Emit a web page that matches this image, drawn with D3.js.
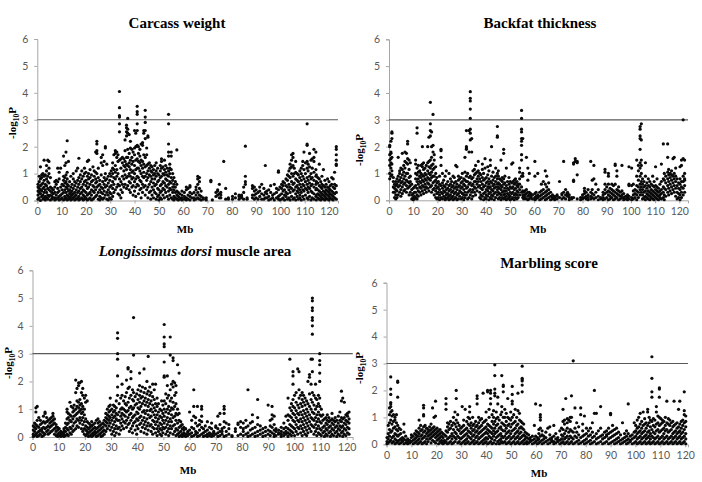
<!DOCTYPE html>
<html><head><meta charset="utf-8">
<script src="https://cdn.jsdelivr.net/npm/d3@7"></script>
<style>body{margin:0;background:#fff}svg{display:block}</style>
</head><body>
<script>
// each group: [Mb position, -log10P values...]
const carcassWeight = [
[0.3,.05,.2,.35,.5,.6],[0.8,.1,.3,.45,.7,.9],[1.3,0,.25,.4,.55,.8,1.25],[1.8,.15,.35,.6,.85,.95],[2.3,.05,.2,.45,.65,1.0],[2.8,.1,.3,.5,.75,.9,1.5],[3.3,.02,.15,.4,.6,.95],[3.8,.1,.3,.55,.8,1.1,1.3],[4.3,.05,.2,.45,.7,.9,1.5],[4.8,.15,.4,.65,1.0,1.2,1.45],[5.4,.02,.2,.35,.5,.85],[6.0,.05,.15,.3,.45],[6.6,.1,.25,.4],[7.2,.02,.1,.3,.5,.7],[7.8,.05,.2,.6,.75],[8.4,.1,.3,.45,.7,1.2],[9.0,.02,.15,.35,.8,1.05],[9.6,.05,.2,.5,1.2],[10.2,.1,.25,.4,.6],[10.8,.02,.3,.55,.75,.9,1.65],[11.3,.05,.15,.4,.65,.85,1.3],[11.8,.1,.3,.5,.7,.95,1.4,1.8],[12.3,.02,.2,.45,.6,.8,1.05,2.22],[12.8,.05,.15,.35,.55,1.45],[13.3,.1,.25,.4,.7],[13.8,.02,.15,.3,.5,.9],[14.3,.05,.2,.35,.6],[14.8,.1,.25,.45,.8,1.0],[15.4,.02,.15,.3,.55,.7],[16.0,.05,.2,.4,.65,1.1],[16.6,.1,.3,.5,.75,1.2],[17.1,.02,.15,.35,.6,.85,1.57],[17.7,.05,.25,.45,.7,.95],[18.3,.1,.3,.5,.8,1.1],[18.9,.02,.2,.4,.6,.9],[19.4,.05,.15,.35,.7,1.0,1.2],[20.0,.1,.3,.55,.75,1.05],[20.6,.02,.2,.45,.65,.9,1.45],[21.1,.05,.25,.5,.8,1.0,1.5],[21.7,.1,.3,.6,.85,1.15],[22.3,.02,.2,.4,.7,.95],[22.9,.05,.35,.55,.75,1.25],[23.4,.1,.3,.5,.9,1.1],[24.0,.15,.4,.65,.8,1.05,1.8],[24.5,.2,.5,.7,1.0,1.75,1.85,2.1,2.2],[25.1,.05,.3,.55,.85,1.2],[25.7,.02,.15,.4,.6,.75],[26.3,.1,.3,.5,.95,1.4,1.6],[26.9,.05,.25,.45,.7,1.3,1.7],[27.5,.1,.35,.6,.85,1.45],[28.0,.2,.5,.75,1.0,1.95,2.0],[28.6,.05,.3,.55,.8,1.35],[29.2,.02,.2,.4,.65,.9],[29.8,.1,.3,.5,.75,1.0],[30.4,.05,.25,.55,.9,1.1],[31.0,.15,.45,.7,1.0,1.2,1.4],[31.5,.3,.6,.85,1.15,1.7],[32.1,.4,.8,1.05,1.3,1.75,1.85],[32.7,.5,.9,1.15,1.6,1.8],[33.2,.25,.6,1.0,1.45,1.7],[33.8,.2,.55,.8,1.5,2.55,2.85,3.1,3.15,3.45,4.05],[34.4,.1,.4,.7,1.2,1.55],[35.0,.3,.6,.9,1.4,1.6],[35.6,.5,.8,1.1,1.3,1.55],[36.1,.6,.95,1.25,1.45,1.85,2.25],[36.7,.45,.85,1.15,1.35,1.6,2.4,2.55,2.7,2.8],[37.2,.55,.9,1.3,1.6,1.9,2.5,2.65,3.05],[37.8,.4,.7,1.0,1.25,1.4,1.75,2.45],[38.3,.3,.65,.9,1.15,1.5,1.95,2.2],[38.9,.5,.8,1.05,1.35,1.6,1.9],[39.4,.2,.55,.85,1.1,1.45,1.8],[40.0,.35,.7,1.0,1.3,1.7,1.95,2.6],[40.5,.15,.5,.8,1.15,1.5,2.0,2.5],[41.1,.6,.9,1.2,1.55,2.05,2.6,2.85,3.2,3.3,3.5],[41.6,.25,.55,.85,1.2,1.45,1.75,2.0],[42.2,.4,.75,1.1,1.4,1.65,1.9],[42.7,.1,.45,.7,1.0,1.3,1.5,2.1],[43.3,.3,.6,.9,1.2,1.45,2.05,2.15],[43.8,.5,.85,1.05,1.35,1.7,2.5,2.6],[44.4,.2,.55,.9,1.25,1.6,2.3,2.6,2.9,3.1,3.35],[45.0,.4,.75,1.0,1.3,1.7,1.95],[45.5,.1,.5,.85,1.1,1.35,2.35,2.4],[46.1,.3,.6,.95,1.2,1.4],[46.7,.05,.35,.7,.9,1.1,1.3],[47.2,.2,.5,.8,1.05,1.25],[47.8,.1,.4,.65,.95,1.15],[48.3,.3,.55,.8,1.0,1.3],[48.9,.05,.25,.6,.9,1.1,1.4],[49.5,.15,.45,.7,1.0,1.2],[50.0,.02,.2,.4,.75,.95],[50.6,.1,.3,.55,.85,1.1,1.3],[51.1,.05,.35,.6,.9,1.2,1.45,1.55],[51.7,.2,.45,.7,1.0,1.25],[52.3,.1,.4,.65,.95,1.15,1.5],[52.8,.3,.55,.8,1.05,1.3],[53.4,.15,.5,.75,.95,1.2],[54.0,.05,.35,.6,.9,1.1,1.65,1.8,2.1,2.85,3.2],[54.5,.2,.45,.7,1.0,1.2,1.35],[55.1,.1,.4,.65,.85,1.15,1.65,1.8],[55.7,.05,.3,.5,.75,1.0],[56.2,.02,.15,.4,.6,.85],[56.8,.1,.3,.5,.7],[57.4,.05,.2,.35,.6,1.88],[58.0,.02,.15,.3],[58.6,.05,.1,.25],[59.5,.02,.1,.2,.35],[60.5,.05,.15,.3],[61.3,.02,.1,.4,.5],[62.0,.05,.2,.45],[62.8,.02,.15,.3,.5,.55],[63.6,.1,.25],[64.5,.02,.1,.3],[65.3,.05,.2,.4,.5],[66.0,.1,.3,.6,.8,.9],[66.7,.05,.2,.45,.7,.85],[67.4,.02,.15,.35],[68.3,.05,.1],[69.5,.02,.1],[71.4,.7,.75],[72.0,.02],[73.5,.15,.3],[74.2,.2,.35,.4],[74.9,.1,.25,.6],[75.5,.1,.2,.3],[76.7,1.45],[77.5,.05,.45],[78.6,.05,.1],[80.3,.05,.15],[81.5,.1,.25],[83.0,.05,.15,.2],[84.0,.1,.2,.15],[84.9,.05,.3,.5],[85.6,.6,.7,.9,2.02],[86.3,.05,.1],[88.5,.1,.2,.45,.55],[89.3,.05,.2,.35,.5],[90.0,.1,.25,.4],[90.8,.05,.3],[91.5,.15,.35,.5],[92.3,.05,.25,.6],[93.8,.1,.3,1.3],[93.2,.05,.2,.45],[94.4,.1,.25,.35],[95.2,.02,.15,.4],[96.0,.05,.3,.55],[96.8,.1,.2],[97.5,.02,.25,.6],[99.2,.05,.15,.4,1.05,1.1],[98.4,.1,.3,.45],[99.8,.02,.2,.5],[100.5,.05,.25,.45,.6],[101.1,.1,.35,.55,.7],[101.7,.02,.2,.4,.65],[102.3,.15,.3,.55,.8],[102.9,.05,.25,.5,.75,.95],[103.5,.1,.4,.6,.9,1.1],[104.0,.02,.3,.5,.85,1.2,1.35],[104.6,.15,.45,.7,1.0,1.25,1.5,1.7],[105.2,.05,.35,.6,.9,1.3,1.6,1.75],[105.7,.1,.4,.65,1.0,1.2],[106.3,.02,.25,.5,.8,1.05,1.45],[106.9,.15,.35,.55,.75,1.0],[107.4,.05,.3,.45,.7,.95],[108.0,.1,.2,.4,.6,.85,1.1],[108.6,.02,.3,.5,.75,1.0,1.2],[109.2,.15,.4,.6,.9,1.3,1.45],[109.7,.05,.35,.55,.8,1.15,1.8],[110.3,.2,.45,.7,1.0,1.4],[111.0,.1,.4,.6,.85,1.2,1.45,2.05,2.1,2.85],[111.4,.05,.3,.5,.75,1.1,1.35],[112.0,.15,.45,.65,.9,1.25,1.75],[112.6,.02,.35,.55,.8,1.0,1.5],[113.1,.1,.3,.6,.85,1.2,1.55],[113.8,.05,.25,.5,.75,1.05,1.45,1.6,1.9],[114.6,.15,.4,.6,.9,1.15,1.8],[114.8,.02,.2,.45,.7,.95],[115.4,.1,.25,.4,.65,.85],[116.0,.05,.2,.35,.55,.8,1.35],[116.6,.02,.15,.3,.5,.7],[117.1,.1,.25,.45,.6,.9],[117.7,.05,.2,.35,.55,1.15],[118.3,.02,.15,.3,.5,.75],[118.8,.1,.25,.4,.6],[119.4,.05,.2,.35,.5,.8],[120.0,.02,.15,.3,.45,.7],[120.5,.1,.25,.4,.55],[121.1,.05,.2,.35,.6,.85],[121.7,.02,.15,.3,.5,.8],[122.3,.1,.25,.45,.6,1.05],[123.0,.05,.3,.55,1.3,1.35,1.5,1.7,1.9,2.0]
];
const backfatThickness = [
[0.3,.8,1.0,1.3,1.5,1.7,2.0,2.05],[0.8,.9,1.2,1.4,1.55,1.75,1.8,2.2],[1.2,.95,1.1,1.35,1.6,2.3,2.5,2.55],[1.8,.3,.5,.7,.85],[2.3,.1,.3,.45,.6],[2.8,.05,.2,.4,.55,.7],[3.3,.1,.35,.6,.8],[3.8,.2,.5,.7,.9,1.6],[4.4,.3,.55,.75,1.0,1.1],[4.9,.15,.4,.65,.85,1.2],[5.5,.25,.5,.7,.95,1.15,1.75],[6.1,.35,.6,.8,1.05,1.3],[6.6,.4,.65,.9,1.2,1.45,1.8],[7.2,.3,.55,.75,1.0,1.4,1.75],[7.7,.45,.7,1.0,1.35,1.55,2.1,2.2],[8.3,.2,.5,.65,.85,1.15,1.5],[8.8,.3,.55,.7,.9,1.4],[9.4,.05,.2,.4,.6],[10.0,.02,.1,.25,.45],[10.5,.05,.15,.3,.5],[11.0,.1,.3,.55,.8,1.0,1.35,1.5],[11.6,.05,.2,.45,.7,.95,1.2,2.5,2.7],[12.1,.15,.35,.6,.8,1.05,1.3],[12.7,.3,.5,.7,.9,1.1],[13.2,.2,.45,.65,.85,1.0,1.3],[13.8,.35,.55,.75,.95,1.25,1.35,2.0],[14.3,.25,.5,.7,.9,1.15,1.4],[14.9,.4,.6,.8,1.0,1.2],[15.4,.3,.5,.75,.95,1.3],[16.0,.45,.65,.85,1.1,1.4,2.0],[16.5,.35,.6,.8,1.0,1.25,1.45,2.35],[17.1,.5,.75,.95,1.2,1.5,2.4,2.6,2.85,3.65],[17.6,.3,.55,.85,1.05,1.3,1.6,2.0,2.55],[18.2,.4,.65,.9,1.15,1.35,1.8,2.05,3.2],[18.7,.2,.45,.7,.9,1.2,1.5,1.7],[19.3,.1,.35,.55,.75,1.0,1.25],[19.8,.05,.25,.45,.65,.85],[20.4,.1,.3,.5,.7],[20.9,.02,.2,.4,.6,.9],[21.5,.1,.3,.55,1.3,1.6,1.85,1.9],[22.1,.05,.25,.45,.65,1.0],[22.6,.15,.35,.55,.75],[23.2,.02,.1,.3,.5,.9],[23.7,.05,.2,.4,.6,1.1],[24.3,.1,.25,.45,.7],[24.8,.02,.15,.35,.55,1.0],[25.4,.05,.2,.4,.6,.8],[25.9,.1,.3,.5,.7],[26.5,.02,.15,.35,.55,.9],[27.0,.05,.25,.45,.65,.85],[27.6,.1,.3,.5,.7,1.3],[28.1,.02,.2,.4,.6,1.25],[28.7,.05,.25,.5,.75,.9],[29.2,.15,.35,.55,.8],[29.8,.05,.3,.45,.65,.85],[30.3,.1,.25,.5,.7,1.0],[30.9,.02,.2,.4,.6,.8],[31.4,.1,.3,.55,.75,1.05,1.6],[32.0,.2,.45,.7,.9,1.9,1.95,2.0,2.6],[32.5,.05,.3,.5,.7,1.0],[33.1,.1,.35,.6,.85,1.8,2.6],[33.6,.2,.4,.65,.9,2.25,2.5,2.65,3.05,3.4,3.7,3.8,4.05],[34.2,.05,.3,.55,.8,1.8,2.3],[34.7,.15,.4,.6,.85,1.1],[35.3,.3,.5,.7,.95,1.15],[35.8,.2,.45,.7,1.0,1.3],[36.4,.35,.6,.8,1.05],[36.9,.5,.7,.9,1.1,1.45],[37.5,.1,.3,.55,.8,1.0],[38.0,.05,.2,.45,.7,.95],[38.6,.15,.4,.6,.85,1.15,1.35],[39.1,.02,.25,.5,.75,1.0],[39.7,.1,.3,.55,.8,1.2,1.55],[40.2,.05,.2,.4,.65,.85],[40.8,.15,.35,.5,.7,.95,1.25],[41.3,.02,.25,.45,.6,.8,1.1],[41.9,.1,.3,.5,.7,1.3,1.5],[42.4,.05,.2,.4,.65,.9,2.0],[43.0,.15,.35,.55,.75,1.05],[43.5,.02,.25,.45,.6,.85],[44.1,.1,.3,.5,.7,.9,1.2],[44.8,.2,.4,.6,.8,1.0,2.35,2.4,2.75],[45.2,.05,.3,.5,.65,.9,1.1],[45.7,.1,.25,.45,.6,.8],[46.3,.02,.2,.4,.55,.75,1.5],[46.8,.1,.3,.5,.7,.85],[47.4,.05,.2,.35,.6,.8,1.75,1.9],[47.9,.1,.25,.45,.65,.9],[48.5,.02,.15,.35,.55,1.2],[49.0,.05,.25,.45,.7],[49.6,.1,.2,.4,.6,.85],[50.1,.02,.15,.3,.5,.7],[50.7,.05,.25,.45,.65,1.35],[51.2,.1,.3,.5,.7,1.4],[51.8,.02,.2,.4,.6,.75],[52.3,.1,.25,.45,.65,.8],[52.9,.05,.2,.35,.55,.7],[53.4,.1,.3,.5,.6],[54.0,.2,.4,.6,.8,1.05,1.2],[54.8,.3,.5,.9,1.5,1.7,2.05,2.2,2.3,2.55,2.65,3.05,3.35],[55.3,.1,.2,.35,.9,1.0,2.3],[55.7,.05,.15,.3],[56.2,.1,.2,.35],[56.8,.05,.25,.4,1.6],[57.4,.02,.15,.3,.75,1.2],[58.0,.05,.2,.3,1.0],[58.6,.1,.15,.25],[59.3,.05,.2],[60.3,.02,.1,.25,.9,1.45],[60.8,.05,.15,.3],[61.5,.1,.2,1.0],[62.3,.02,.15,.3],[63.0,.05,.2,.35,.6],[63.8,.1,.25,.4,.7],[64.6,.02,.15,.3,.6,1.1],[65.2,.05,.2,.35,.5,.9],[66.0,.1,.25,.4,.65],[66.8,.02,.15,.3],[67.6,.05,.1,.2],[68.5,.02,.1,.15],[69.5,.05,.2,.15],[70.5,.1,.7],[71.5,.05,.2,.25],[72.2,.1,.3,1.45],[73.0,.05,.2,.4],[73.8,.15,.3,.25],[74.5,.02,.1,.2],[75.5,.05,.1],[76.3,.1,.7,.75,1.35,1.4],[77.0,1.45,1.55],[77.8,.05,.95,1.4,1.45],[79.2,.02,.1],[80.0,.05,.2,.1],[80.8,.1,.25,.35,.45],[81.5,.05,.15,.3],[82.3,.02,.1,.2,.4],[83.4,.05,.15,.3,1.45],[84.0,.1,.25,.4,.75],[84.7,.05,.2,.8,1.3],[85.5,.1,.3,.6],[86.5,.02,.15,.4],[87.5,.05,.1],[88.5,.02,.1,.2,.3],[89.3,.05,.25,.4,.6,1.05,1.15],[90.0,.1,.3,.5],[90.7,.02,.2,.35,.6,.9,1.0],[91.4,.05,.15,.3,.45],[92.1,.1,.25,.4,.6],[92.8,.02,.2,.35,.55],[93.5,.05,.15,.3,.6,1.3,1.35],[94.2,.1,.25,.4,.9,1.1],[94.9,.02,.2,.35,.5],[95.6,.05,.15,.3],[96.3,.1,.2,.35,1.3],[97.0,.02,.1,.25],[97.8,.05,.15],[98.6,.02,.1,.2],[99.2,.05,.15,.55,.6,1.25],[100.3,.02,.1,.55,1.2],[101.0,.05,.2,.35,.6],[101.7,.1,.25,.4],[102.4,.02,.2,.35,.55,.9,1.5],[103.1,.1,.3,.5,.75,1.1,1.3],[103.8,.2,.4,.6,.9,1.2,1.4,1.9,2.3,2.4,2.65,2.75],[104.3,.3,.5,.7,1.0,1.3,1.5,2.25,2.85],[104.8,.05,.2,.4,.6,.8],[105.4,.1,.3,.5,.7],[106.0,.02,.15,.35,.55,.9,1.4],[106.6,.1,.25,.45,.65],[107.2,.05,.2,.35,.55,.8],[107.8,.02,.15,.3,.5,.7],[108.4,.1,.25,.4,.6],[109.0,.05,.2,.35,.55,.9],[109.6,.02,.15,.3,.5,.7],[110.2,.1,.25,.4,.55,1.25],[110.8,.05,.2,.35,.5,.8],[111.4,.02,.15,.3,.45],[112.0,.1,.2,.35,.6],[112.6,.05,.25,.4,.7,1.35],[113.4,.1,.3,.5,.8,2.1],[113.8,.02,.2,.45,.75,1.0],[114.4,.15,.4,.65,.9],[115.2,.3,.55,.8,1.05,1.6,2.1],[115.6,.2,.45,.7,.95,1.15],[116.2,.35,.6,.85,1.0],[116.8,.25,.5,.75,.95,1.1],[117.4,.4,.65,.9,1.55],[117.9,.3,.55,.8,1.0,1.6],[118.5,.15,.45,.7,.9,1.2],[119.1,.05,.3,.55,.8],[119.7,.1,.25,.45,.65],[120.3,.02,.2,.4,.6,.8,1.25],[120.9,.1,.3,.5,.7,1.3,1.5],[121.6,.2,.45,.7,.9,1.55,3.0],[122.2,.3,.55,.75,.8,1.0,1.5]
];
const ldMuscleArea = [
[0.3,.02,.1,.25,.4],[0.8,.05,.2,.35,.5],[1.3,.1,.3,.45,.9,1.05],[1.8,.02,.15,.4,.6,1.1],[2.4,.05,.2,.35,.7],[3.0,.1,.25,.45,.6],[3.6,.02,.2,.3,.5],[4.2,.05,.15,.35,.55,.75],[4.8,.1,.3,.5,.85,.9],[5.4,.2,.35,.55,.7],[6.0,.1,.25,.4,.6],[6.6,.15,.35,.5,.65],[7.2,.2,.4,.55,.7],[7.8,.25,.45,.6,.75,.85],[8.4,.1,.3,.5,.65],[9.0,.05,.2,.35,.45],[9.6,.02,.1,.25,.35],[10.2,.05,.15,.3],[10.8,.02,.1,.2],[11.4,.05,.15,.1],[12.0,.02,.1,.2,.3],[12.6,.05,.2,.35,.5],[13.2,.1,.3,.45,.65,.9,1.0],[13.7,.05,.25,.5,.7,.85],[14.3,.15,.35,.6,.8,1.25],[14.8,.1,.3,.55,.75,1.1],[15.4,.2,.4,.65,.9,1.05],[15.9,.25,.5,.75,.95,1.15],[16.5,.3,.55,.8,1.0,1.6,2.05],[17.0,.4,.65,.85,1.1,1.3,1.75],[17.6,.35,.6,.9,1.05,1.25,1.85,1.95],[18.1,.5,.7,.95,1.15,1.35,1.95],[18.7,.3,.6,.85,1.0,1.2,1.6,2.0],[19.2,.2,.45,.7,.9,1.1,1.5,1.75],[19.8,.1,.3,.55,.8,1.0,1.4],[20.3,.05,.25,.4,.65,1.25,1.5],[20.9,.1,.2,.35,.55,1.3],[21.4,.02,.15,.3,.5],[22.0,.05,.2,.35,.45],[22.6,.02,.1,.25,.4,.55],[23.2,.05,.15,.3,.45],[23.8,.1,.2,.35,.5],[24.4,.02,.15,.3,.6],[25.0,.05,.2,.35,.5,.65],[25.6,.1,.25,.4,.55],[26.2,.02,.15,.3,.45],[26.8,.05,.2,.35,.5],[27.4,.1,.25,.45,.6],[28.0,.2,.4,.55,.7,.85],[28.6,.3,.5,.65,.8,1.0],[29.2,.4,.6,.75,.9,1.1],[29.7,.25,.5,.7,.95,1.15,1.4],[30.3,.1,.35,.6,.8,1.0],[30.9,.2,.45,.7,.9,1.15],[31.4,.05,.3,.55,.75,.95,1.1],[32.0,.15,.4,.65,.85,1.05,1.3],[32.5,.3,.6,.8,1.5,1.8,2.2,2.8,3.0,3.55,3.75],[33.1,.1,.35,.6,.9,1.2],[33.7,.25,.5,.75,1.0,1.4],[34.2,.4,.65,.85,1.05,1.5,1.9],[34.8,.3,.55,.8,1.0,1.3],[35.4,.5,.75,.95,1.2,1.45],[35.9,.35,.6,.9,1.15,1.6,2.05],[36.5,.45,.7,.95,1.25,1.75,2.45,2.5],[37.0,.2,.5,.8,1.05,1.4,1.8],[37.6,.3,.6,.85,1.1,1.5,2.1,2.35],[38.2,.15,.4,.7,1.0,1.35,1.7],[38.6,.5,.75,1.05,1.3,1.6,2.95,4.3],[39.2,.25,.55,.8,1.15,1.45],[39.8,.1,.4,.65,.9,1.2,1.55],[40.3,.3,.6,.85,1.05,1.35,1.7],[40.9,.45,.7,1.0,1.25,1.5,1.85,2.3],[41.4,.2,.5,.75,1.1,1.4,1.65],[42.0,.35,.6,.9,1.2,1.45,1.8],[42.6,.15,.45,.7,.95,1.3,1.6,2.45],[43.1,.3,.55,.85,1.15,1.4,1.75],[43.7,.1,.4,.65,.95,1.25,1.55,2.0],[44.2,.25,.5,.8,1.1,1.35,1.65,2.9],[44.8,.4,.7,.95,1.2,1.5,1.8],[45.3,.2,.45,.75,1.0,1.3,1.6],[45.9,.1,.35,.6,.9,1.15,1.45,1.9],[46.5,.3,.55,.8,1.05,1.35,1.7],[47.0,.15,.45,.7,.95,1.2,1.9],[47.6,.05,.3,.55,.8,1.1,1.4],[48.1,.2,.4,.65,.9,1.2],[48.7,.1,.3,.5,.75,1.0],[49.3,.05,.25,.45,.7,.95,1.3],[49.8,.15,.35,.6,.85,1.15],[50.3,.3,.5,.75,1.0,1.3,2.15,2.2,2.7,3.25,3.35,3.6,4.05],[50.9,.1,.35,.6,.9,1.2,1.55],[51.5,.2,.45,.7,1.0,1.4,1.85,2.2],[52.0,.05,.3,.55,.85,1.1,1.5],[52.6,.15,.4,.65,.95,1.3,1.7,2.95,3.6],[53.1,.3,.55,.8,1.05,1.4,1.9],[53.7,.1,.4,.7,1.0,1.25,1.8,2.0,2.75,2.85],[54.3,.2,.45,.75,1.1,1.5,1.95],[54.8,.05,.3,.6,.85,1.2,1.6,1.85],[55.4,.1,.25,.5,.8,1.0,2.6],[56.0,.02,.15,.35,.6,.85,2.3],[56.6,.05,.2,.4,.55],[57.2,.02,.1,.3,.45],[57.8,.05,.15,.25,.35],[58.5,.02,.1,.3],[59.3,.05,.2,.15],[60.0,.1,.25,.9],[60.8,.02,.15,.35,.6],[61.6,.05,.3,.75,1.1,1.7],[62.3,.1,.2,.5,.7],[63.0,.02,.15,.4,1.1],[63.8,.05,.25,.45,.6],[64.6,.1,.35,.55,.75,1.0,1.1],[65.3,.02,.15,.3],[66.0,.05,.2,.4],[66.8,.02,.1,.25,.55],[67.6,.05,.15,.35],[68.4,.02,.1,.3,.5],[69.2,.05,.2,.15],[70.0,.1,.35,.4],[70.8,.02,.15,.3,.75],[71.6,.05,.2,.45,.85],[72.4,.1,.3,.2],[73.2,.02,.35,.55,.85,1.0,1.1],[74.0,.05,.2,.5],[75.0,.1,.3,.45],[76.2,.02,.05],[77.5,.2,.3],[78.5,.05,.45,.5],[79.5,.1,.35,.55],[80.5,.05,.2,.3,.5],[81.5,.1,.35,.6],[82.3,.02,.15,.4,1.7],[83.2,.05,.25,.5],[84.0,.1,.3,.55,.8],[85.0,.02,.15,.35],[86.0,.05,.2,.45,.7,1.35],[87.0,.1,.25,.4],[88.0,.02,.15,.3],[89.0,.05,.2,.35],[90.0,.1,.25,1.15],[90.8,.05,.2,.4,.6],[91.5,.15,.35,.65,.8,1.1],[92.3,.02,.1,.25,.45,.75],[93.0,.05,.2,.3],[94.0,.1,.25,.15],[95.0,.02,.1,.2,.35],[96.0,.05,.15,.3,.5],[96.8,.1,.2,.35,.75],[97.6,.02,.15,.3,.6,.8,1.4],[98.3,.1,.25,.45,.75,1.05,2.8],[98.9,.05,.2,.4,.7,.95,1.2],[99.5,.15,.35,.6,.85,1.1,1.35,1.9,2.2,2.35],[100.1,.05,.3,.55,.8,1.05,1.5],[100.7,.2,.45,.7,.95,1.25,1.6],[101.3,.1,.35,.6,.85,1.15,2.45],[101.8,.3,.55,.8,1.05,1.4,1.7,2.35],[102.4,.15,.4,.65,.9,1.2,1.5],[103.0,.05,.3,.55,.8,1.1,1.35,1.6],[103.5,.2,.45,.7,.95,1.25,1.5],[104.1,.1,.35,.6,.85,1.15,1.4],[104.7,.05,.25,.5,.75,1.0,1.3],[105.2,.15,.4,.65,.9,1.2,2.0],[105.8,.3,.55,.8,1.1,1.55,2.15,2.25],[106.4,.2,.45,.7,1.0,1.35,1.9,2.8],[106.9,.4,.65,.9,1.25,1.6,2.35,2.8,3.7,4.0,4.2,4.3,4.55,4.65,4.9,5.0],[107.5,.1,.35,.6,.85,1.15,1.5],[108.1,.2,.45,.7,1.0,1.4,1.9],[108.6,.05,.3,.55,.8,1.1,1.35],[109.2,.15,.4,.65,.9,1.2,1.5],[109.7,.1,.3,.55,.8,1.1,1.4,2.0,2.3,2.6,2.75,3.0],[110.3,.05,.25,.5,.75,1.0],[110.9,.15,.35,.6,.8],[111.5,.02,.2,.4,.65],[112.1,.1,.3,.5,.7],[112.6,.05,.25,.45,.6,.8],[113.2,.15,.35,.55,.7],[113.8,.02,.2,.4,.6],[114.4,.1,.3,.5,.65,.85],[115.0,.05,.25,.45,.6],[115.6,.15,.35,.55,.7],[116.2,.02,.2,.4,.6],[116.8,.1,.3,.5,.75],[117.4,.05,.25,.4,.6,.9],[118.0,.15,.35,.55,.7,1.3,1.65],[118.5,.02,.2,.4,.65,1.4],[119.1,.1,.3,.5,.7,1.25],[119.7,.05,.25,.45,.6,.8],[120.3,.15,.35,.55,.75,.85],[120.9,.1,.3,.5,.65,.9]
];
const marblingScore = [
[0.2,.02,.1,.25],[0.7,.05,.2,.4,.7],[1.2,.1,.3,.55,.8,1.1,1.35],[1.7,.15,.45,.9,1.2,1.4,1.5,1.55,1.85,2.05,2.5],[2.2,.05,.25,.5,.75,1.05,1.25],[2.8,.1,.3,.6,.85,1.1],[3.4,.02,.2,.4,.65,.9,1.0],[4.0,.05,.15,.35,.55,.8,1.1],[4.5,.1,.3,.5,.7,1.75,2.3,2.35],[5.1,.02,.15,.35,.6],[5.7,.05,.2,.4,.55],[6.4,.1,.25,.15],[7.0,.02,.2,.45,.75],[7.7,.05,.15,.3],[8.5,.02,.1,.2],[9.3,.05,.15],[10.0,.1,.25,.35],[10.7,.02,.15,.3],[11.3,.05,.2,.4],[11.9,.1,.25,.35,.5],[12.5,.02,.15,.3,.45],[13.1,.05,.2,.4,.6,.9],[13.7,.1,.3,.5,.7],[14.3,.02,.2,.35,.55],[14.9,.05,.25,.45,.65,1.05,1.1,1.35,1.45],[15.5,.1,.3,.5,.7],[16.1,.02,.2,.4,.6],[16.7,.1,.3,.45,.55],[17.3,.2,.35,.5,.65],[17.9,.05,.25,.4,.55,.75],[18.5,.15,.3,.45,.6,1.35],[19.1,.1,.35,.5,.65,1.0],[19.7,.05,.25,.4,.55,1.05,1.6],[20.3,.15,.3,.45,.6],[20.9,.02,.2,.35,.5],[21.5,.1,.25,.4,.55],[22.1,.05,.15,.3,.45],[22.7,.02,.1,.25,.4],[23.3,.05,.15,.35],[23.9,.1,.3,.5,1.3,1.5,1.7],[24.5,.02,.2,.45,.65,.8],[25.1,.05,.25,.55,.75],[25.7,.1,.3,.6,.85],[26.3,.02,.2,.4,.7],[26.9,.05,.3,.55,.8,1.0],[27.5,.1,.25,.45,.75,1.2],[28.0,.2,.4,.65,.9,1.7,2.0],[28.6,.05,.3,.55,.8,1.1],[29.2,.1,.25,.5,.7],[29.8,.02,.2,.4,.6],[30.4,.05,.25,.45,.65,1.4],[31.0,.1,.3,.5,.7,.9],[31.6,.02,.15,.35,.55,1.3],[32.2,.05,.2,.4,.6,.85],[32.8,.1,.3,.5,.75,1.0],[33.4,.02,.25,.45,.7,.95,1.2,1.4],[34.0,.05,.2,.4,.6,.8],[34.6,.1,.3,.5,.7,1.0],[35.2,.02,.15,.35,.55,.75],[35.8,.05,.25,.45,.65,.85],[36.4,.1,.3,.5,.7,1.5,1.7,1.8],[37.0,.02,.2,.4,.6,.8,1.0],[37.6,.05,.25,.45,.65,.9],[38.2,.1,.3,.5,.7,.95],[38.8,.02,.15,.35,.55,.8,1.9],[39.4,.05,.2,.4,.6,.85],[40.0,.1,.25,.45,.65,.9,1.2],[40.6,.02,.2,.4,.55,.75,1.95,2.0],[41.2,.05,.3,.5,.7,1.0,1.3],[41.8,.1,.25,.45,.65,1.5,1.7,1.9,2.0],[42.4,.02,.2,.4,.6,.85,1.1],[43.0,.05,.3,.5,.75,1.0,1.25],[43.5,.15,.4,.6,.85,1.8,1.9,2.05,2.55,2.95],[44.1,.02,.25,.45,.7,.95,1.2],[44.7,.1,.3,.5,.75,1.0,1.5,1.75],[45.3,.02,.15,.35,.6,.9],[45.9,.05,.2,.4,.65,1.1],[46.3,.1,.3,.55,.8,1.2,1.4,2.55],[46.9,.05,.25,.5,.75,1.0,1.95,2.15,2.2],[47.5,.1,.3,.5,.7,1.0,1.3],[48.1,.02,.2,.4,.6,.85,1.15],[48.7,.05,.25,.45,.7,1.0,1.7],[49.3,.1,.3,.5,.75,.95],[49.9,.02,.2,.4,.65,.9,1.2],[50.5,.05,.25,.5,.75,1.0,1.5,1.6,1.85,2.15],[51.1,.1,.3,.55,.8,1.1],[51.7,.02,.2,.4,.6,.85,1.3],[52.3,.05,.25,.45,.7,1.0],[52.8,.1,.3,.5,.75,1.25,1.9],[53.4,.02,.2,.4,.6,.9,1.15],[54.0,.05,.25,.45,.65,.85],[54.5,.1,.3,.6,.8,1.95,2.2,2.35,2.4,2.45,2.9],[55.1,.02,.15,.35,.55,.75],[55.7,.05,.2,.3,.45],[56.4,.02,.1,.25,.4],[57.1,.05,.2,.35],[57.8,.1,.25,.15],[58.6,.02,.15,.3],[59.4,.05,.2,.7],[59.9,.1,.3,1.5],[60.6,.02,.15,.25],[61.2,.05,.2,.4,.55],[61.8,.1,.3,.6,.9,1.0,1.1,1.45],[62.5,.02,.15,.35,.5],[63.2,.05,.2,.3],[64.0,.1,.25,.45],[64.8,.02,.15,.6],[65.6,.05,.2,.35,.65],[66.4,.1,.25,.15],[67.2,.02,.1,.3,.7],[68.0,.05,.2,.4],[68.8,.1,.25,.15],[69.6,.02,.15,.5],[70.3,.05,.2,.35,.6],[70.9,.1,.3,.55,.85,1.3],[71.5,.02,.2,.4,.75,.9],[72.0,.05,.25,.5,1.7],[72.6,.1,.3,.6,.8,.95],[73.2,.02,.2,.45,.9],[73.8,.05,.3,.55,.85,1.0],[74.3,.1,.25,.5,1.0,1.8],[75.0,.02,.2,.45,3.1],[75.7,.05,.3,.6,1.35],[76.4,.1,.25,.45,.8],[77.2,.02,.15,.35,.65],[78.0,.05,.25,1.1,1.35],[78.8,.1,.3,.5,.75],[79.5,.02,.15,.35,1.05],[80.3,.05,.2,.4,.6],[81.1,.1,.3,.5],[81.9,.02,.15,.35,.6],[82.7,.05,.25,.45,.8],[83.5,.1,.3,1.15,2.0],[84.3,.02,.2,.4,1.15],[85.1,.05,.25,.5],[86.0,.1,.3,.6,1.4],[86.8,.02,.2,.35],[87.6,.05,.25,.45],[88.4,.1,.3,.5,.35],[89.2,.02,.2,.4,.6],[90.0,.05,.25,.45,1.1,1.15],[90.8,.1,.3,.5,.7],[91.6,.02,.15,.35,.55],[92.4,.05,.2,.4,.6],[93.2,.1,.25,.45],[94.0,.02,.15,.35],[94.8,.05,.2,.8],[95.6,.1,.25,.4],[96.4,.02,.15,.3,.5],[97.1,.05,.2,.4,1.5],[97.9,.1,.3,.15],[98.7,.02,.2,.35],[99.5,.05,.25,.45,.8],[100.1,.1,.3,.5,.7],[100.7,.02,.2,.4,.6,.9],[101.3,.05,.25,.45,.65,1.0],[101.9,.1,.3,.5,.75,1.15],[102.5,.02,.2,.4,.6,.85],[103.1,.05,.25,.45,.7,1.2],[103.7,.1,.3,.5,.75,.95],[104.3,.02,.2,.35,.6,.8],[104.9,.05,.25,.45,.7,1.2,1.3],[105.5,.1,.3,.5,.8,1.0],[106.0,.02,.2,.4,.65,.9],[106.6,.05,.3,.55,.85,1.75,1.95,2.45,3.25],[107.2,.1,.25,.45,.7,.95],[107.8,.02,.2,.4,.65,.9],[108.4,.05,.25,.5,.75,1.2,1.4],[109.0,.1,.3,.55,.8,1.05],[109.6,.02,.2,.45,.7,1.0,1.75,2.05,2.1],[110.2,.05,.25,.5,.75,.95],[110.8,.1,.3,.55,.8,.9],[111.4,.02,.2,.4,.6,.85],[112.0,.05,.25,.5,.7,1.0],[112.6,.1,.3,.55,.8,1.6],[113.2,.02,.2,.45,.75,.95],[113.8,.05,.25,.5,.7,.9],[114.4,.1,.3,.55,.8],[115.0,.02,.2,.4,.65,.85],[115.5,.05,.25,.45,.7,1.6],[116.1,.1,.3,.5,.75],[116.7,.02,.2,.4,.6,.8],[117.3,.05,.25,.45,.65,1.3],[117.8,.1,.3,.5,.75,1.6],[118.4,.02,.2,.4,.6,.85],[119.0,.05,.25,.45,.7,.9],[119.6,.1,.3,.55,.8,1.1,1.25,1.95],[120.2,.02,.2,.4,.65,.85,1.05]
];
const xTicks = [0,10,20,30,40,50,60,70,80,90,100,110,120];
const yTicks = [0,1,2,3,4,5,6];
const threshold = 3;

const W = 702, H = 482;
const svg = d3.select("body").append("svg").attr("width", W).attr("height", H);

const panels = [
  {data: carcassWeight, title: [["Carcass weight", false]], tx: 177, ty: 28,
   xr: [37.3, 338], xmax: 123.7, yr: [200.5, 39], lx: 16, ly: 123, mbx: 185, mby: 233},
  {data: backfatThickness, title: [["Backfat thickness", false]], tx: 540, ty: 28,
   xr: [389, 688], xmax: 123.6, yr: [200.3, 39.3], lx: 363, ly: 150, mbx: 538, mby: 233},
  {data: ldMuscleArea, title: [["Longissimus dorsi", true], [" muscle area", false]], tx: 195, ty: 256,
   xr: [32.5, 352.7], xmax: 122.3, yr: [437, 270.3], lx: 12, ly: 363, mbx: 188, mby: 474},
  {data: marblingScore, title: [["Marbling score", false]], tx: 549, ty: 268,
   xr: [386.5, 688], xmax: 121.1, yr: [444.3, 282.7], lx: 363, ly: 368, mbx: 539, mby: 477}
];

const serif = "'Liberation Serif','Times New Roman',serif";
const sans = "Lato,'Liberation Sans',Arial,sans-serif";

panels.forEach(p => {
  const x = d3.scaleLinear().domain([0, p.xmax]).range(p.xr);
  const y = d3.scaleLinear().domain([0, 6]).range(p.yr);
  const g = svg.append("g");

  const xa = g.append("g").attr("transform", `translate(0,${p.yr[0]})`)
    .call(d3.axisBottom(x).tickValues(xTicks).tickFormat(d3.format("d")).tickSize(3).tickPadding(4));
  const ya = g.append("g").attr("transform", `translate(${p.xr[0]},0)`)
    .call(d3.axisLeft(y).tickValues(yTicks).tickFormat(d3.format("d")).tickSize(3).tickPadding(6));
  [xa, ya].forEach(a => {
    a.select(".domain").attr("stroke", "#a6a6a6");
    a.selectAll(".tick line").attr("stroke", "#a6a6a6");
    a.selectAll("text").attr("fill", "#595959").style("font-family", sans).style("font-size", "10.5px");
  });

  g.append("line").attr("x1", x(0)).attr("x2", x(p.xmax))
    .attr("y1", y(threshold)).attr("y2", y(threshold))
    .attr("stroke", "#595959").attr("stroke-width", 1.2);

  const pts = [];
  p.data.forEach(grp => grp.slice(1).forEach(v => pts.push([grp[0], v])));
  g.append("g").selectAll("circle").data(pts).join("circle")
    .attr("cx", d => x(d[0])).attr("cy", d => y(d[1])).attr("r", 1.6).attr("fill", "#0a0a0a");

  const t = g.append("text").attr("x", p.tx).attr("y", p.ty).attr("text-anchor", "middle")
    .style("font-family", serif).style("font-size", "15px").style("font-weight", "bold").attr("fill", "#000");
  p.title.forEach(([s, it]) => t.append("tspan").text(s).style("font-style", it ? "italic" : "normal"));

  const yl = g.append("text").attr("transform", `translate(${p.lx},${p.ly}) rotate(-90)`)
    .attr("text-anchor", "middle").style("font-family", serif).style("font-size", "11px")
    .style("font-weight", "bold").attr("fill", "#000");
  yl.append("tspan").text("-log");
  yl.append("tspan").text("10").style("font-size", "7.5px").attr("dy", 3);
  yl.append("tspan").text("P").attr("dy", -3);

  g.append("text").attr("x", p.mbx).attr("y", p.mby).attr("text-anchor", "middle")
    .style("font-family", serif).style("font-size", "11px").style("font-weight", "bold").text("Mb");
});
</script>
</body></html>
